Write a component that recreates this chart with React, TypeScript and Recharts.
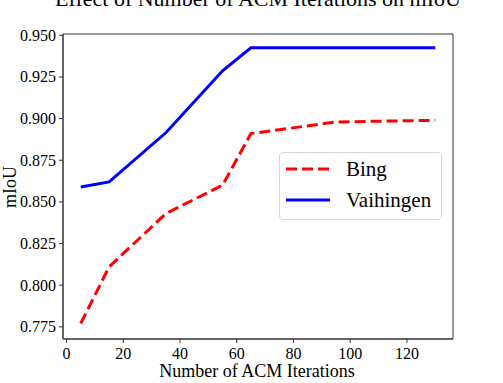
import { LineChart, Line, XAxis, YAxis, ReferenceArea } from "recharts";

const iterations = [5, 15, 35, 55, 65, 95, 130];
const bing = [0.777, 0.811, 0.843, 0.86, 0.891, 0.898, 0.899];
const vaihingen = [0.859, 0.862, 0.8915, 0.9287, 0.9425, 0.9425, 0.9425];
const xTicks = [0, 20, 40, 60, 80, 100, 120];
const yTicks = [0.775, 0.8, 0.825, 0.85, 0.875, 0.9, 0.925, 0.95];

const data = iterations.map((it, i) => ({ it, bing: bing[i], vaihingen: vaihingen[i] }));

const FONT = "'Liberation Serif', 'Times New Roman', serif";
const X_DOMAIN: [number, number] = [-1.25, 136.25];
const Y_DOMAIN: [number, number] = [0.7677, 0.9508];

function XTick(props: any) {
  const { x, y, payload } = props;
  return (
    <text x={x} y={y + 8} textAnchor="middle" dominantBaseline="central" style={{ fontFamily: FONT, fontSize: 16 }} fill="#000">
      {payload.value}
    </text>
  );
}

function YTick(props: any) {
  const { x, y, payload } = props;
  return (
    <text x={x - 1} y={y} textAnchor="end" dominantBaseline="central" style={{ fontFamily: FONT, fontSize: 16 }} fill="#000">
      {Number(payload.value).toFixed(3)}
    </text>
  );
}

function LegendBox() {
  return (
    <div
      style={{
        position: "absolute",
        left: 279,
        top: 152,
        width: 163,
        height: 68,
        boxSizing: "border-box",
        border: "1px solid #d8d8d8",
        borderRadius: 4,
        background: "rgba(255,255,255,0.8)",
      }}
    >
      <svg width={163} height={68} style={{ position: "absolute", left: -1, top: -1 }}>
        <line x1={7} x2={51} y1={17} y2={17} stroke="#ff0000" strokeWidth={3} strokeDasharray="11 5" />
        <text x={67} y={17} dominantBaseline="central" fontFamily={FONT} fontSize={21} fill="#000">
          Bing
        </text>
        <line x1={7} x2={51} y1={48} y2={48} stroke="#0000ff" strokeWidth={3} />
        <text x={67} y={48} dominantBaseline="central" fontFamily={FONT} fontSize={21} fill="#000">
          Vaihingen
        </text>
      </svg>
    </div>
  );
}

export default function App() {
  return (
    <div
      className="chart"
      style={{ position: "absolute", left: 0, top: 0, width: 503, height: 383, background: "#fff", fontFamily: FONT }}
    >
      <style>{`.chart text { font-family: 'Liberation Serif', 'Times New Roman', serif; }`}</style>
      <LineChart width={503} height={383} data={data} margin={{ top: 34, right: 50, bottom: 14, left: 8 }}>
        <XAxis
          dataKey="it"
          type="number"
          domain={X_DOMAIN}
          ticks={xTicks}
          height={30}
          tickSize={4}
          stroke="#333"
          tick={<XTick />}
          interval={0}
        />
        <YAxis
          type="number"
          domain={Y_DOMAIN}
          ticks={yTicks}
          width={55}
          tickSize={4}
          stroke="#333"
          tick={<YTick />}
          interval={0}
        />
        <ReferenceArea
          x1={X_DOMAIN[0]}
          x2={X_DOMAIN[1]}
          y1={Y_DOMAIN[0]}
          y2={Y_DOMAIN[1]}
          fill="none"
          stroke="#333"
          strokeWidth={1}
          ifOverflow="visible"
        />
        <Line
          dataKey="bing"
          name="Bing"
          stroke="#ff0000"
          strokeWidth={3}
          strokeDasharray="11 5"
          dot={false}
          type="linear"
          isAnimationActive={false}
        />
        <Line
          dataKey="vaihingen"
          name="Vaihingen"
          stroke="#0000ff"
          strokeWidth={3}
          dot={false}
          type="linear"
          isAnimationActive={false}
        />
      </LineChart>
      <LegendBox />
      <svg width={503} height={383} style={{ position: "absolute", left: 0, top: 0, pointerEvents: "none" }}>
        <text x={258} y={6} textAnchor="middle" fontFamily={FONT} fontSize={22} fill="#000">
          Effect of Number of ACM Iterations on mIoU
        </text>
        <text
          x={10}
          y={187}
          textAnchor="middle"
          dominantBaseline="central"
          transform="rotate(-90 10 187)"
          fontFamily={FONT}
          fontSize={18}
          fill="#000"
        >
          mIoU
        </text>
        <text x={257} y={371} textAnchor="middle" dominantBaseline="central" fontFamily={FONT} fontSize={18} fill="#000">
          Number of ACM Iterations
        </text>
      </svg>
    </div>
  );
}
